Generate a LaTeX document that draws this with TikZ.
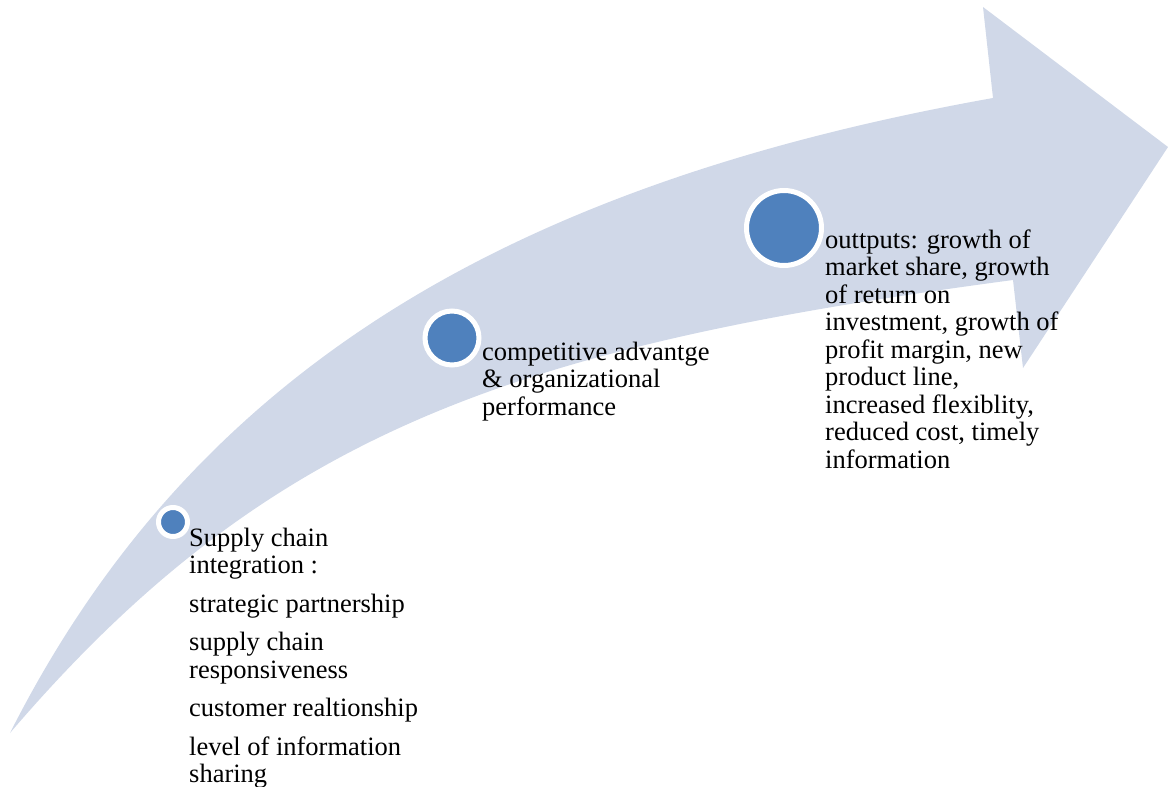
\documentclass[tikz,border=0pt]{standalone}
\usepackage{fontspec}
\setmainfont{Liberation Serif}
\definecolor{bandfill}{HTML}{D0D8E8}
\definecolor{dotfill}{HTML}{4F81BD}
% fixed-height strut so the first baseline sits 20pt under the node top
\newcommand{\topstrut}{\rule{0pt}{20pt}}
\begin{document}
\begin{tikzpicture}[x=1pt,y=-1pt,
  dot/.style={circle,fill=dotfill,draw=white,line width=5pt,inner sep=0pt},
  label/.style={anchor=north west,inner sep=0pt,align=left,
    font=\fontsize{26.5}{27.5}\selectfont}]
\useasboundingbox (0,0) rectangle (1168,787);

% curved band ending in an arrow head
\fill[bandfill] (10,733)
  .. controls (190,377) and (500,186) .. (993,98)
  -- (983,7) -- (1168,147) -- (1023,368) -- (1013,280)
  .. controls (518,346) and (270,429) .. (10,733) -- cycle;

% stage markers
\node[dot,minimum size=29pt] (d1) at (173,522) {};
\node[dot,minimum size=54pt] (d2) at (452,338) {};
\node[dot,minimum size=75pt] (d3) at (784,228) {};

% stage descriptions (positions are first baseline minus 20pt)
\node[label] (t1) at (189,526) {\topstrut Supply chain\\integration :\\[11pt]
  strategic partnership\\[11pt]
  supply chain\\responsiveness\\[11pt]
  customer realtionship\\[11pt]
  level of information\\sharing};
\node[label] (t2) at (482,340) {\topstrut competitive advantge\\\& organizational\\performance};
\node[label] (t3) at (825,228) {\topstrut outtputs: growth of\\market share, growth\\of return on\\investment, growth of\\profit margin, new\\product line,\\increased flexiblity,\\reduced cost, timely\\information};
\end{tikzpicture}
\end{document}
